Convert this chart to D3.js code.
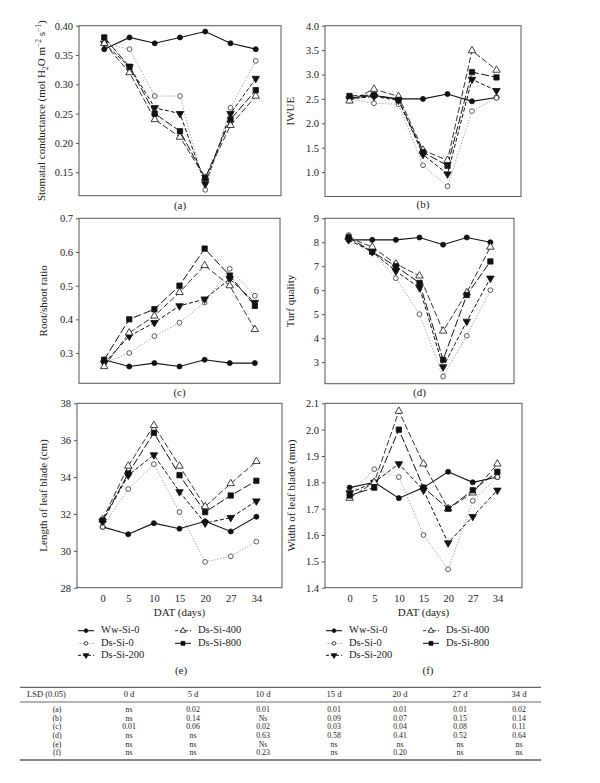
<!DOCTYPE html>
<html><head><meta charset="utf-8">
<script src="https://cdn.jsdelivr.net/npm/d3@7"></script>
<style>
html,body{margin:0;padding:0;background:#fff;}
svg{display:block;}
text{font-family:"Liberation Serif","DejaVu Serif",serif;fill:#222;}
</style></head>
<body>
<svg id="chart" width="600" height="783"></svg>
<script>
// ---------- DATA ----------
const days = ["0","5","10","15","20","27","34"];
const seriesNames = ["Ww-Si-0","Ds-Si-0","Ds-Si-200","Ds-Si-400","Ds-Si-800"];

// (a) Stomatal conductance, order = seriesNames
const stomatalConductance = [
  [0.36,0.38,0.37,0.38,0.39,0.37,0.36],
  [0.37,0.36,0.28,0.28,0.12,0.26,0.34],
  [0.37,0.33,0.26,0.25,0.13,0.25,0.31],
  [0.37,0.32,0.24,0.21,0.14,0.23,0.28],
  [0.38,0.33,0.25,0.22,0.14,0.24,0.29]
];
// (b) IWUE
const iwue = [
  [2.52,2.57,2.50,2.50,2.60,2.45,2.53],
  [2.50,2.41,2.39,1.14,0.71,2.25,2.52],
  [2.50,2.55,2.47,1.36,0.96,2.90,2.67],
  [2.46,2.70,2.55,1.45,1.24,3.49,3.09],
  [2.56,2.58,2.48,1.41,1.13,3.05,2.94]
];
// (c) Root/shoot ratio
const rootShoot = [
  [0.28,0.26,0.27,0.26,0.28,0.27,0.27],
  [0.27,0.30,0.35,0.39,0.45,0.55,0.47],
  [0.27,0.35,0.39,0.44,0.46,0.52,0.45],
  [0.26,0.36,0.41,0.48,0.56,0.50,0.37],
  [0.28,0.40,0.43,0.50,0.61,0.53,0.44]
];
// (d) Turf quality
const turfQuality = [
  [8.1,8.1,8.1,8.2,7.9,8.2,8.0],
  [8.3,7.6,6.5,5.0,2.4,4.1,6.0],
  [8.1,7.6,6.8,6.1,2.8,4.7,6.5],
  [8.2,7.8,7.1,6.6,4.3,5.9,7.8],
  [8.2,7.6,7.0,6.3,3.1,5.8,7.2]
];
// (e) Length of leaf blade
const leafLength = [
  [31.3,30.9,31.5,31.2,31.6,31.05,31.85],
  [31.3,33.35,34.7,32.1,29.4,29.7,30.5],
  [31.6,34.1,35.2,33.2,31.5,31.8,32.7],
  [31.7,34.6,36.8,34.6,32.4,33.65,34.85],
  [31.65,34.2,36.4,34.1,32.1,33.0,33.8]
];
// (f) Width of leaf blade
const leafWidth = [
  [1.78,1.80,1.74,1.78,1.84,1.80,1.82],
  [1.75,1.85,1.82,1.60,1.47,1.73,1.82],
  [1.76,1.80,1.87,1.77,1.57,1.67,1.77],
  [1.74,1.80,2.07,1.87,1.70,1.76,1.87],
  [1.75,1.78,2.00,1.78,1.70,1.77,1.84]
];

// y ticks per panel
const ticksA = [0.15,0.20,0.25,0.30,0.35,0.40];
const ticksB = [1.0,1.5,2.0,2.5,3.0,3.5,4.0];
const ticksC = [0.3,0.4,0.5,0.6,0.7];
const ticksD = [3,4,5,6,7,8,9];
const ticksE = [28,30,32,34,36,38];
const ticksF = [1.4,1.5,1.6,1.7,1.8,1.9,2.0,2.1];

// LSD table
const lsdHeader = ["LSD (0.05)","0 d","5 d","10 d","15 d","20 d","27 d","34 d"];
const lsdRowLabels = ["(a)","(b)","(c)","(d)","(e)","(f)"];
const lsdValues = [
  ["ns","0.02","0.01","0.01","0.01","0.01","0.02"],
  ["ns","0.14","Ns","0.09","0.07","0.15","0.14"],
  ["0.01","0.06","0.02","0.03","0.04","0.08","0.11"],
  ["ns","ns","0.63","0.58","0.41","0.52","0.64"],
  ["ns","ns","Ns","ns","ns","ns","ns"],
  ["ns","ns","0.23","ns","0.20","ns","ns"]
];

// ---------- STYLE ----------
const styles = [
  {dash:null,      color:"#111", width:1.1, sym:d3.symbolCircle,   size:20, fill:"#111", rot:0},
  {dash:"1.2,1.8", color:"#9a9a9a", width:1.0, sym:d3.symbolCircle, size:18, fill:"#fff", rot:0},
  {dash:"4,2.2",   color:"#111", width:1.0, sym:d3.symbolTriangle, size:24, fill:"#111", rot:180},
  {dash:"6,2.5",   color:"#333", width:1.0, sym:d3.symbolTriangle, size:24, fill:"#fff", rot:0},
  {dash:"8,2.5",   color:"#111", width:1.0, sym:d3.symbolSquare,   size:28, fill:"#111", rot:0}
];

const svg = d3.select("#chart");

const panels = [
  {data:stomatalConductance, l:79, r:281, t:25.7, b:195.7, dom:[0.11,0.40], ticks:ticksA, fmt:".2f", label:"(a)", ly:206, titleX:45, title:"stomatal"},
  {data:iwue, l:325, r:521, t:25.7, b:196.5, dom:[0.5,4.0], ticks:ticksB, fmt:".1f", label:"(b)", ly:205, titleX:294, title:"IWUE"},
  {data:rootShoot, l:79, r:280, t:218.3, b:383.3, dom:[0.21,0.7], ticks:ticksC, fmt:".1f", label:"(c)", ly:393, titleX:47, title:"Root/shoot ratio"},
  {data:turfQuality, l:325, r:514, t:218.3, b:383.7, dom:[2.1,9], ticks:ticksD, fmt:"d", label:"(d)", ly:393, titleX:294, title:"Turf quality"},
  {data:leafLength, l:77, r:282, t:403.3, b:587.7, dom:[28,38], ticks:ticksE, fmt:"d", label:null, titleX:47, title:"Length of leaf blade (cm)", xlab:true},
  {data:leafWidth, l:325, r:522, t:403.3, b:587.7, dom:[1.4,2.1], ticks:ticksF, fmt:".1f", label:null, titleX:295, title:"Width of leaf blade (mm)", xlab:true}
];

panels.forEach(p => {
  const x = d3.scalePoint().domain(days).range([p.l, p.r]).padding(1);
  const y = d3.scaleLinear().domain(p.dom).range([p.b, p.t]);
  const g = svg.append("g");

  g.append("rect").attr("x", p.l).attr("y", p.t).attr("width", p.r - p.l).attr("height", p.b - p.t)
    .attr("fill", "none").attr("stroke", "#555").attr("stroke-width", 1);

  const ya = g.append("g").attr("transform", `translate(${p.l},0)`)
    .call(d3.axisLeft(y).tickValues(p.ticks).tickFormat(d3.format(p.fmt)).tickSize(3).tickPadding(3));
  ya.select(".domain").remove();
  ya.selectAll("line").attr("stroke", "#555");
  ya.selectAll("text").attr("font-size", 10.5).attr("font-family", "Liberation Serif").attr("fill", "#222");

  if (p.xlab) {
    const xa = g.append("g").attr("transform", `translate(0,${p.b})`)
      .call(d3.axisBottom(x).tickSize(0).tickPadding(7));
    xa.select(".domain").remove();
    xa.selectAll("text").attr("font-size", 10.5).attr("font-family", "Liberation Serif").attr("fill", "#222");
    g.append("text").attr("x", (p.l + p.r) / 2).attr("y", 616).attr("text-anchor", "middle")
      .attr("font-size", 11).text("DAT (days)");
  }

  const cy = (p.t + p.b) / 2;
  const tt = g.append("text").attr("transform", `translate(${p.titleX},${cy}) rotate(-90)`)
    .attr("text-anchor", "middle").attr("font-size", 11);
  if (p.title === "stomatal") {
    tt.append("tspan").text("Stomatal conductance (mol H");
    tt.append("tspan").attr("dy", 3).attr("font-size", 7.5).text("2");
    tt.append("tspan").attr("dy", -3).text("O m");
    tt.append("tspan").attr("dy", -4).attr("font-size", 7.5).text("\u22122");
    tt.append("tspan").attr("dy", 4).text(" s");
    tt.append("tspan").attr("dy", -4).attr("font-size", 7.5).text("\u22121");
    tt.append("tspan").attr("dy", 4).text(")");
  } else {
    tt.text(p.title);
  }

  const line = d3.line().x((d, i) => x(days[i])).y(d => y(d));
  p.data.forEach((vals, si) => {
    const s = styles[si];
    g.append("path").datum(vals).attr("d", line).attr("fill", "none")
      .attr("stroke", s.color).attr("stroke-width", s.width)
      .attr("stroke-dasharray", s.dash);
  });
  p.data.forEach((vals, si) => {
    const s = styles[si];
    g.selectAll(null).data(vals).enter().append("path")
      .attr("d", d3.symbol().type(s.sym).size(s.size))
      .attr("transform", (d, i) => `translate(${x(days[i])},${y(d)}) rotate(${s.rot})`)
      .attr("fill", s.fill).attr("stroke", si === 1 ? "#333" : "#111").attr("stroke-width", 0.8);
  });

  if (p.label) {
    g.append("text").attr("x", (p.l + p.r) / 2).attr("y", p.ly).attr("text-anchor", "middle")
      .attr("dominant-baseline", "middle").attr("font-size", 11).text(p.label);
  }
});

// ---------- LEGENDS ----------
const legendSets = [
  {col1:78, col2:175, label:"(e)", lx:181},
  {col1:326, col2:423, label:"(f)", lx:428}
];
const legendPos = [ {c:0,r:0}, {c:0,r:1}, {c:0,r:2}, {c:1,r:0}, {c:1,r:1} ];
const legendRowsY = [630.7, 643.3, 655.3];
legendSets.forEach(L => {
  seriesNames.forEach((name, si) => {
    const s = styles[si];
    const pos = legendPos[si];
    const x0 = pos.c === 0 ? L.col1 : L.col2;
    const yy = legendRowsY[pos.r];
    svg.append("line").attr("x1", x0).attr("x2", x0 + 16).attr("y1", yy).attr("y2", yy)
      .attr("stroke", s.color).attr("stroke-width", s.width)
      .attr("stroke-dasharray", s.dash ? (si === 4 ? null : (si === 1 ? "1,1.5" : "3,2")) : null);
    svg.append("path").attr("d", d3.symbol().type(s.sym).size(s.size * 0.55))
      .attr("transform", `translate(${x0 + 8},${yy}) rotate(${s.rot})`)
      .attr("fill", s.fill).attr("stroke", "#111").attr("stroke-width", 0.8);
    svg.append("text").attr("x", x0 + 23).attr("y", yy).attr("dominant-baseline", "middle")
      .attr("font-size", 10.5).text(name);
  });
  svg.append("text").attr("x", L.lx).attr("y", 671).attr("text-anchor", "middle")
    .attr("dominant-baseline", "middle").attr("font-size", 11).text(L.label);
});

// ---------- TABLE ----------
const colX = [129, 193, 263, 334, 400, 460, 519];
const tTop = 687.3, tHeadY = 695.5, tHeadLine = 702, tRow0 = 710.5, tRowStep = 8.6;
const tFont = 7.8;
svg.append("line").attr("x1", 20).attr("x2", 541).attr("y1", tTop).attr("y2", tTop).attr("stroke", "#444").attr("stroke-width", 1);
svg.append("line").attr("x1", 20).attr("x2", 541).attr("y1", tHeadLine).attr("y2", tHeadLine).attr("stroke", "#444").attr("stroke-width", 0.8);
const tBottom = tRow0 + tRowStep * (lsdRowLabels.length - 1) + 6.5;
svg.append("line").attr("x1", 20).attr("x2", 541).attr("y1", tBottom).attr("y2", tBottom).attr("stroke", "#111").attr("stroke-width", 1.2);
svg.append("text").attr("x", 27).attr("y", tHeadY).attr("dominant-baseline", "middle").attr("font-size", 8.5).text(lsdHeader[0]);
lsdHeader.slice(1).forEach((h, i) => {
  svg.append("text").attr("x", colX[i]).attr("y", tHeadY).attr("text-anchor", "middle")
    .attr("dominant-baseline", "middle").attr("font-size", 8.5).text(h);
});
lsdRowLabels.forEach((rl, ri) => {
  const yy = tRow0 + ri * tRowStep;
  svg.append("text").attr("x", 57).attr("y", yy).attr("text-anchor", "middle")
    .attr("dominant-baseline", "middle").attr("font-size", tFont).text(rl);
  lsdValues[ri].forEach((v, ci) => {
    svg.append("text").attr("x", colX[ci]).attr("y", yy).attr("text-anchor", "middle")
      .attr("dominant-baseline", "middle").attr("font-size", tFont).text(v);
  });
});
</script>
</body></html>
